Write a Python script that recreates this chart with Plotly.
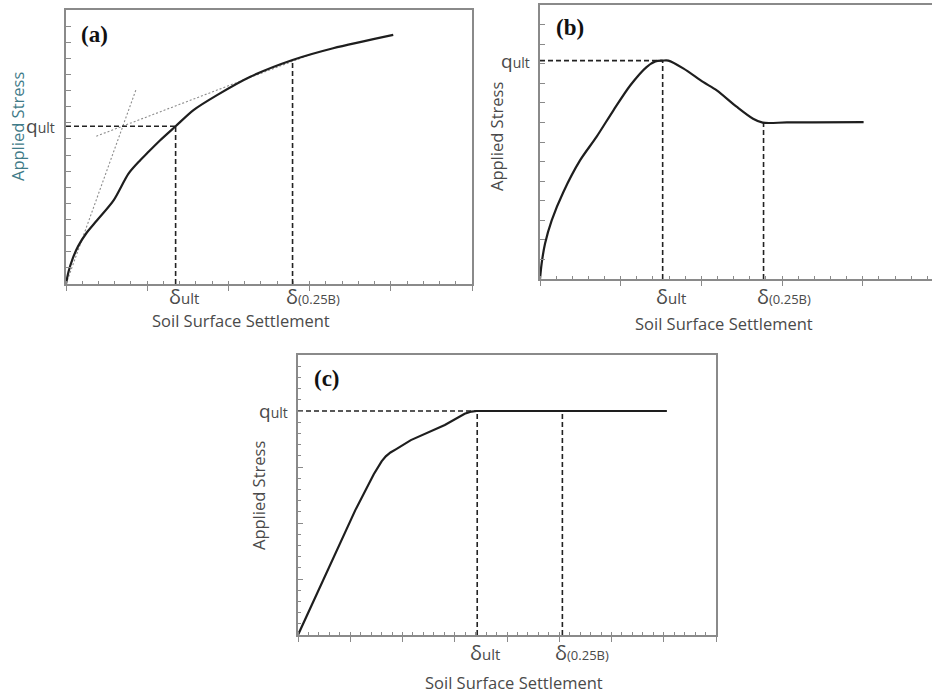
import numpy as np
import plotly.graph_objects as go

# ---------------- data ----------------
# (a) gradually hardening curve
a_x = [0, 0.03, 0.08, 0.15, 0.25, 0.38, 0.586, 0.77, 0.914, 0.996, 1.16, 1.35, 1.57, 1.86, 2.27, 2.79, 3.29, 4.03]
a_y = [0, 0.75, 1.55, 2.35, 3.15, 3.94, 5.19, 6.85, 7.68, 8.1, 8.92, 9.79, 10.79, 11.72, 12.86, 13.9, 14.63, 15.46]
a_q_ult = 9.79
a_d_ult = 1.35
a_d_025 = 2.79
a_s_025 = 13.9
# tangent construction lines (initial and final slopes)
a_tan1_x = [0, 0.865]
a_tan1_y = [0, 12.1]
a_tan2_x = [0.373, 3.04]
a_tan2_y = [9.17, 14.3]

# (b) peak then softening to residual
b_x = [0, 0.02, 0.062, 0.145, 0.29, 0.496, 0.70, 0.91, 1.12, 1.32, 1.43, 1.52, 1.59, 1.78, 2.02, 2.19, 2.44, 2.64, 2.76, 2.85, 3.06, 4.01]
b_y = [0, 0.78, 1.8, 3.0, 4.45, 6.06, 7.26, 8.62, 9.9, 10.83, 11.12, 11.16, 11.16, 10.75, 10.07, 9.64, 8.79, 8.19, 7.99, 7.97, 8.0, 8.02]
b_q_ult = 11.16
b_d_ult = 1.52
b_d_025 = 2.77
b_s_025 = 7.99

# (c) bilinear-like curve reaching a plateau
c_x = [0, 0.548, 1.097, 1.45, 1.53, 1.6, 1.68, 1.77, 1.88, 2.16, 2.81, 3.19, 3.32, 3.42, 7.06]
c_y = [0, 1.1, 2.23, 2.87, 3.0, 3.1, 3.19, 3.26, 3.32, 3.48, 3.75, 3.95, 3.99, 4.0, 4.0]
c_q_ult = 4.0
c_d_ult = 3.43
c_d_025 = 5.06
c_s_025 = 4.0

W, H = 932, 693
def px(x):
    return x / W
def py(y):
    return 1 - y / H

AX = "#8a8a8a"
TXT = "#4a4a4a"
CURVE = "#1e1e1e"
SANS = "Open Sans"
SERIF = "Liberation Serif"

fig = go.Figure()

def curve(x, y, xa, ya, smooth):
    line = dict(color=CURVE, width=2.2)
    if smooth:
        line.update(shape="spline", smoothing=smooth)
    fig.add_trace(go.Scatter(x=x, y=y, mode="lines", xaxis=xa, yaxis=ya,
                             line=line, hoverinfo="skip"))

def dashed(x, y, xa, ya):
    fig.add_trace(go.Scatter(x=x, y=y, mode="lines", xaxis=xa, yaxis=ya,
                             line=dict(color="#222222", width=1.6, dash="5px,3px"), hoverinfo="skip"))

def dotted(x, y, xa, ya):
    fig.add_trace(go.Scatter(x=x, y=y, mode="lines", xaxis=xa, yaxis=ya,
                             line=dict(color="#8c8c8c", width=1.1, dash="2px,2px"), hoverinfo="skip"))

# panel (a)
dotted(a_tan1_x, a_tan1_y, "x", "y")
dotted(a_tan2_x, a_tan2_y, "x", "y")
dashed([0, a_d_ult], [a_q_ult, a_q_ult], "x", "y")
dashed([a_d_ult, a_d_ult], [0, a_q_ult], "x", "y")
dashed([a_d_025, a_d_025], [0, a_s_025], "x", "y")
curve(a_x, a_y, "x", "y", 0.8)

# panel (b)
dashed([0, b_d_ult], [b_q_ult, b_q_ult], "x2", "y2")
dashed([b_d_ult, b_d_ult], [0, b_q_ult], "x2", "y2")
dashed([b_d_025, b_d_025], [0, b_s_025], "x2", "y2")
curve(b_x, b_y, "x2", "y2", 0.8)

# panel (c)
dashed([0, c_d_ult], [c_q_ult, c_q_ult], "x3", "y3")
dashed([c_d_ult, c_d_ult], [0, c_q_ult], "x3", "y3")
dashed([c_d_025, c_d_025], [0, c_s_025], "x3", "y3")
curve(c_x, c_y, "x3", "y3", 0)

def xaxis(domain, rng, anchor, mirror, dtick, minor):
    return dict(domain=domain, range=rng, anchor=anchor, showgrid=False, zeroline=False,
                showline=True, linecolor=AX, linewidth=1.5, mirror=mirror,
                ticks="outside", ticklen=5, tickwidth=1, tickcolor=AX, dtick=dtick, tick0=0,
                showticklabels=False,
                minor=dict(ticks="inside", ticklen=3, tickwidth=1, tickcolor=AX, dtick=minor, showgrid=False))

def yaxis(domain, rng, anchor, mirror, dtick, minor=None):
    d = dict(domain=domain, range=rng, anchor=anchor, showgrid=False, zeroline=False,
             showline=True, linecolor=AX, linewidth=1.5, mirror=mirror,
             ticks="inside", ticklen=5, tickwidth=1, tickcolor=AX, dtick=dtick, tick0=0,
             showticklabels=False)
    if minor:
        d["minor"] = dict(ticks="inside", ticklen=3, tickwidth=1, tickcolor=AX, dtick=minor, showgrid=False)
    return d

fig.update_layout(
    width=W, height=H, margin=dict(l=0, r=0, t=0, b=0),
    paper_bgcolor="white", plot_bgcolor="white", showlegend=False,
    xaxis=xaxis([px(66), px(472)], [0, 5], "y", True, 1, 0.2),
    yaxis=yaxis([py(284), py(10)], [0, 17], "x", True, 1),
    xaxis2=xaxis([px(540), 1.0], [0, (W - 540) / 80.7], "y2", True, 1, 0.2),
    yaxis2=yaxis([py(279), py(5)], [0, 14], "x2", False, 1),
    xaxis3=xaxis([px(298), px(716)], [0, 8], "y3", True, 1, 0.2),
    yaxis3=yaxis([py(635), py(355)], [0, 5], "x3", True, 1, 0.2),
)

ann = []
def label(text, x, y, xref="paper", yref="paper", xanchor="center", yanchor="middle", size=15,
          color=TXT, family=SANS, angle=0, xshift=0):
    ann.append(dict(text=text, x=x, y=y, xref=xref, yref=yref, xanchor=xanchor, yanchor=yanchor,
                    showarrow=False, textangle=angle, xshift=xshift,
                    font=dict(size=size, color=color, family=family)))

def q_text():
    return "q<span style='font-size:14px'>ult</span>"

def d_ult_text():
    return "δ<span style='font-size:15px'>ult</span>"

def d_025_text():
    return "δ<span style='font-size:13px'>(0.25B)</span>"

panels = [
    # xa, ya, q_ult, d_ult, d_025, letter, letter pos, q label x, delta y, title pos, ylabel pos, ylabel colour
    ("x", "y", a_q_ult, a_d_ult, a_d_025, "(a)", (79, 35), 57, 296, (241, 320), (18, 127), "#3f7b88"),
    ("x2", "y2", b_q_ult, b_d_ult, b_d_025, "(b)", (554, 27), 532, 296, (724, 323), (496, 137), TXT),
    ("x3", "y3", c_q_ult, c_d_ult, c_d_025, "(c)", (312, 378), 290, 652, (514, 682), (258, 496), TXT),
]
for xa, ya, q, du, d25, letter, lp, qx, dy, tp, yp, ycol in panels:
    label(q_text(), px(qx), q, yref=ya, xanchor="right", size=19)
    label(d_ult_text(), du, py(dy), xref=xa, xanchor="left", size=20, xshift=-9)
    label(d_025_text(), d25, py(dy), xref=xa, xanchor="left", size=20, xshift=-9)
    label("Soil Surface Settlement", px(tp[0]), py(tp[1]), size=16.5)
    label("Applied Stress", px(yp[0]), py(yp[1]), size=16.5, angle=-90, color=ycol)
    label("<b>" + letter + "</b>", px(lp[0]), py(lp[1]), xanchor="left", size=23, color="#111111", family=SERIF)

fig.update_layout(annotations=ann)
fig.write_html("out.html")
